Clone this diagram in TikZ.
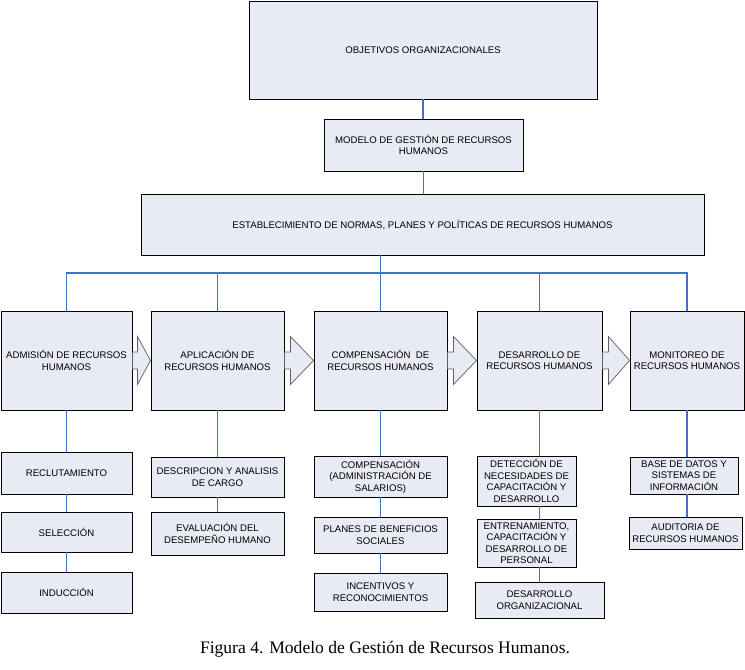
\documentclass[tikz,border=0pt]{standalone}
\usepackage{fontspec}
\setmainfont{Liberation Sans}
\newfontfamily\captionfont{Liberation Serif}
\usetikzlibrary{positioning, calc}
\usepackage{xcolor}

\definecolor{boxfill}{RGB}{232,235,244}
\definecolor{linkblue}{RGB}{68,114,196}
\definecolor{arrowgray}{RGB}{95,95,95}

% one pixel of the original drawing
\newcommand{\pxu}{0.03cm}

% block arrow from node #1 to node #2, shaft length #3
\newcommand{\flechabloque}[3]{%
  \draw[bigarrow] ($(#1.east)+(0,-8.5)$) -- ++(#3,0) -- ++(0,-15.5)
    -- (#2.west) -- ($(#1.east)+(#3,24)$) -- ++(0,-15.5)
    -- ($(#1.east)+(0,8.5)$) -- cycle;}

\begin{document}
\begin{tikzpicture}[
    x=\pxu, y=-\pxu,
    box/.style={draw=black, thick, fill=boxfill, align=center, inner sep=1pt,
      font=\fontsize{8.2}{9.8}\selectfont},
    link/.style={draw=linkblue, line width=0.9pt},
    bigarrow/.style={draw=arrowgray, line width=0.6pt, fill=boxfill}
]
\useasboundingbox (0,0) rectangle (745,670);

% Top
\node[box, minimum width=348*\pxu, minimum height=98*\pxu] (obj) at (423,50) {OBJETIVOS ORGANIZACIONALES};
\node[box, minimum width=199*\pxu, minimum height=52*\pxu] (mod) at (423.5,145) {MODELO DE GESTIÓN DE RECURSOS\\HUMANOS};
\node[box, minimum width=563*\pxu, minimum height=61*\pxu] (est) at (422.5,224.5) {ESTABLECIMIENTO DE NORMAS, PLANES Y POLÍTICAS DE RECURSOS HUMANOS};
\coordinate (bus) at (0,273);

% Main row
\node[box, minimum width=131*\pxu, minimum height=99*\pxu] (adm) at (66.5,360.5) {ADMISIÓN DE RECURSOS\\HUMANOS};
\node[box, minimum width=133*\pxu, minimum height=99*\pxu] (apl) at (217.5,360.5) {APLICACIÓN DE\\RECURSOS HUMANOS};
\node[box, minimum width=133*\pxu, minimum height=99*\pxu] (com) at (380.5,360.5) {COMPENSACIÓN~ DE\\RECURSOS HUMANOS};
\node[box, minimum width=125*\pxu, minimum height=99*\pxu] (des) at (539.5,360.5) {DESARROLLO DE\\RECURSOS HUMANOS};
\node[box, minimum width=114*\pxu, minimum height=99*\pxu] (mon) at (687,360.5) {MONITOREO DE\\RECURSOS HUMANOS};

% Sub-processes
\node[box, minimum width=131*\pxu, minimum height=42*\pxu] (rec) at (66.5,473) {RECLUTAMIENTO};
\node[box, minimum width=131*\pxu, minimum height=40*\pxu] (sel) at (66.5,532) {SELECCIÓN};
\node[box, minimum width=131*\pxu, minimum height=41*\pxu] (ind) at (66.5,592.5) {INDUCCIÓN};

\node[box, minimum width=133*\pxu, minimum height=40*\pxu] (dca) at (217.5,477) {DESCRIPCION Y ANALISIS\\DE CARGO};
\node[box, minimum width=133*\pxu, minimum height=43*\pxu] (eva) at (217.5,533.5) {EVALUACIÓN DEL\\DESEMPEÑO HUMANO};

\node[box, minimum width=133*\pxu, minimum height=41*\pxu] (csa) at (380.5,476.5) {COMPENSACIÓN\\(ADMINISTRACIÓN DE\\SALARIOS)};
\node[box, minimum width=133*\pxu, minimum height=36*\pxu] (pla) at (380.5,535) {PLANES DE BENEFICIOS\\SOCIALES};
\node[box, minimum width=133*\pxu, minimum height=38*\pxu] (inc) at (380.5,592) {INCENTIVOS Y\\RECONOCIMIENTOS};

\node[box, minimum width=99*\pxu, minimum height=50*\pxu] (det) at (526.5,481) {DETECCIÓN DE\\NECESIDADES DE\\CAPACITACIÓN Y\\DESARROLLO};
\node[box, minimum width=99*\pxu, minimum height=48*\pxu] (ent) at (526.5,543) {ENTRENAMIENTO,\\CAPACITACIÓN Y\\DESARROLLO DE\\PERSONAL};
\node[box, minimum width=129*\pxu, minimum height=36*\pxu] (dor) at (539.5,600) {DESARROLLO\\ORGANIZACIONAL};

\node[box, minimum width=108*\pxu, minimum height=37*\pxu] (bdd) at (684,475.5) {BASE DE DATOS Y\\SISTEMAS DE\\INFORMACIÓN};
\node[box, minimum width=113*\pxu, minimum height=32*\pxu] (aud) at (685.5,533) {AUDITORIA DE\\RECURSOS HUMANOS};

% Links
\draw[link] (obj.south) -- (obj.south |- mod.north);
\draw[link] (mod.south) -- (mod.south |- est.north);
\draw[link] (com.north |- est.south) -- (com.north |- bus);
\draw[link] (adm.north) -- (adm.north |- bus) -- (mon.north |- bus) -- (mon.north);
\draw[link] (apl.north) -- (apl.north |- bus);
\draw[link] (com.north) -- (com.north |- bus);
\draw[link] (des.north) -- (des.north |- bus);

\draw[link] (adm.south) -- (rec.north);
\draw[link] (rec.south) -- (sel.north);
\draw[link] (sel.south) -- (ind.north);
\draw[link] (apl.south) -- (dca.north);
\draw[link] (dca.south) -- (eva.north);
\draw[link] (com.south) -- (com.south |- csa.north);
\draw[link] (csa.south) -- (pla.north);
\draw[link] (pla.south) -- (inc.north);
\draw[link] (des.south) -- (des.south |- det.north);
\draw[link] (des.south |- det.south) -- (des.south |- ent.north);
\draw[link] (des.south |- ent.south) -- (dor.north);
\draw[link] (mon.south) -- (mon.south |- bdd.north);
\draw[link] (mon.south |- bdd.south) -- (mon.south |- aud.north);

% Block arrows
\flechabloque{adm}{apl}{5}
\flechabloque{apl}{com}{6}
\flechabloque{com}{des}{6}
\flechabloque{des}{mon}{6}

% Caption
\node[font=\captionfont\fontsize{15}{18}\selectfont] (caption) at (385,649) {Figura 4. Modelo de Gestión de Recursos Humanos.};
\end{tikzpicture}
\end{document}
